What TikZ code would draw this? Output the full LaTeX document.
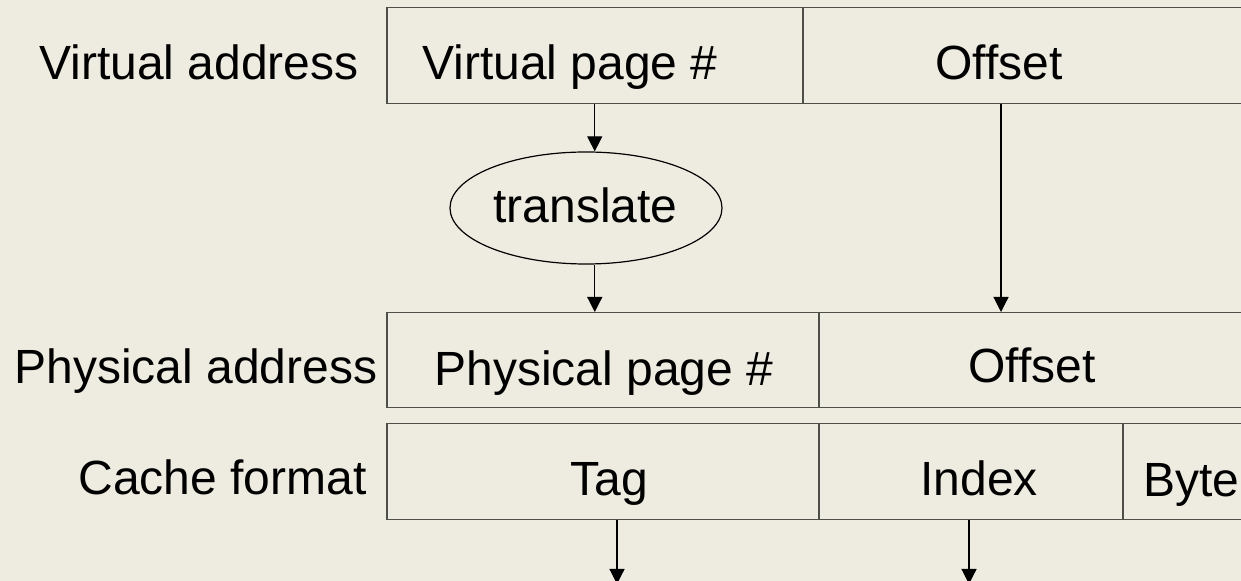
\documentclass[tikz,border=0pt]{standalone}
\usepackage{fontspec}
\setmainfont{Liberation Sans}
\usetikzlibrary{arrows.meta,shapes.geometric}
\definecolor{paper}{HTML}{EEECE1}
\definecolor{rule}{HTML}{4F4F4A}
\tikzset{
  field/.style={draw=rule, line width=0.75pt, rectangle, inner sep=0pt, anchor=north west},
  txt/.style={anchor=base west, inner sep=0pt, font=\fontsize{24}{28}\selectfont},
  op/.style={draw=black, line width=0.6pt, ellipse, inner sep=0pt,
             minimum width=136pt, minimum height=56pt},
  arr/.style={draw=black, line width=0.6pt, -{Triangle[width=7.5pt,length=7.5pt]}}
}
\begin{document}
\begin{tikzpicture}[x=0.5pt, y=-0.5pt]
  \useasboundingbox (0,0) rectangle (1241,581);
  \fill[paper] (0,0) rectangle (1241,581);
  \clip (0,0) rectangle (1241,581);

  % virtual address fields
  \node[field, minimum width=208pt, minimum height=48pt] (vpn)  at (386,7) {};
  \node[field, minimum width=260pt, minimum height=48pt] (voff) at (802,7) {};
  % translation step
  \node[op] (tr) at (586,208) {};
  % physical address fields
  \node[field, minimum width=216pt, minimum height=47.5pt] (ppn)  at (386,312) {};
  \node[field, minimum width=260pt, minimum height=47.5pt] (poff) at (818,312) {};
  % cache format fields
  \node[field, minimum width=216pt, minimum height=48pt] (tag)  at (386,423) {};
  \node[field, minimum width=152pt, minimum height=48pt] (idx)  at (818,423) {};
  \node[field, minimum width=120pt, minimum height=48pt] (byte) at (1122,423) {};

  % row labels
  \node[txt] (lv) at (39,80)  {Virtual address};
  \node[txt] (lp) at (14,384) {Physical address};
  \node[txt] (lc) at (78,495) {Cache format};

  % field texts
  \node[txt] (tvpn)  at (422,80)  {Virtual page \#};
  \node[txt] (tvoff) at (935,80)  {Offset};
  \node[txt] (ttr)   at (493,223) {translate};
  \node[txt] (tppn)  at (434,386) {Physical page \#};
  \node[txt] (tpoff) at (968,383) {Offset};
  \node[txt] (ttag)  at (570,496) {Tag};
  \node[txt] (tidx)  at (920,496) {Index};
  \node[txt] (tbyte) at (1143,497) {Byte};

  % connectors
  \coordinate (offx) at (1001,0);
  \coordinate (tagx) at (617,0);
  \coordinate (tagend) at (617,584);
  \coordinate (idxend) at (969,584);
  \draw[arr] (vpn.south) -- (vpn.south |- tr.north);
  \draw[arr] (vpn.south |- tr.south) -- (vpn.south |- ppn.north);
  \draw[arr] (offx |- voff.south) -- (offx |- poff.north);
  \draw[arr] (tagx |- tag.south) -- (tagend);
  \draw[arr] (idxend |- idx.south) -- (idxend);
\end{tikzpicture}
\end{document}
